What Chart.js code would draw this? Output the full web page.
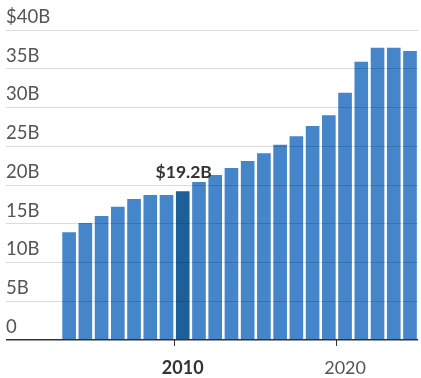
<!DOCTYPE html>
<html>
<head>
<meta charset="utf-8">
<script src="https://cdn.jsdelivr.net/npm/chart.js@4"></script>
<style>
  html, body { margin: 0; padding: 0; background: #fff; }
  #wrap { width: 421px; height: 378px; }
</style>
</head>
<body>
<div id="wrap"><canvas id="myChart"></canvas></div>
<script>
// data
const years = ['2003','2004','2005','2006','2007','2008','2009','2010','2011','2012','2013',
  '2014','2015','2016','2017','2018','2019','2020','2021','2022','2023','2024'];
const revenue = [13.9, 15.1, 16.0, 17.2, 18.2, 18.7, 18.7, 19.2, 20.4, 21.3, 22.2,
  23.1, 24.1, 25.2, 26.3, 27.6, 29.0, 31.9, 35.9, 37.7, 37.7, 37.3];
const shownYears = ['2010', '2020'];
const highlightYear = '2010';
const highlightLabel = '$19.2B';

const FONT = 'Lato, "Open Sans", sans-serif';

// label over the highlighted bar
const calloutPlugin = {
  id: 'callout',
  afterDatasetsDraw(chart) {
    const i = years.indexOf(highlightYear);
    const bar = chart.getDatasetMeta(0).data[i];
    const ctx = chart.ctx;
    ctx.save();
    ctx.font = 'bold 17.5px ' + FONT;
    ctx.fillStyle = '#333';
    ctx.textAlign = 'center';
    ctx.textBaseline = 'bottom';
    ctx.fillText(highlightLabel, bar.x + 1, bar.y - 10);
    ctx.restore();
  }
};

const config = {
  type: 'bar',
  data: {
    labels: years,
    datasets: [{
      data: revenue,
      backgroundColor: years.map(y => y === highlightYear ? '#1d5f99' : '#4585c9'),
      categoryPercentage: 1,
      barPercentage: 0.84
    }]
  },
  options: {
    responsive: true,
    maintainAspectRatio: false,
    animation: false,
    layout: { padding: { left: 6, right: 0, top: 30, bottom: 0 } },
    plugins: { legend: { display: false }, tooltip: { enabled: false } },
    scales: {
      x: {
        border: { display: false },
        grid: {
          drawOnChartArea: false,
          tickLength: 6,
          color: ctx => shownYears.includes(years[ctx.index]) ? '#333' : 'rgba(0,0,0,0)'
        },
        ticks: {
          autoSkip: false,
          maxRotation: 0,
          padding: 11,
          color: ctx => ctx.tick.label === highlightYear ? '#333' : '#555',
          font: ctx => ({ family: FONT, size: 18, weight: ctx.tick && ctx.tick.label === highlightYear ? 'bold' : 'normal' }),
          callback: function (v, i) { return shownYears.includes(years[i]) ? years[i] : ''; }
        },
        afterFit: s => { s.height = 38; }
      },
      y: {
        min: 0,
        max: 40,
        border: { display: false },
        grid: {
          z: 1,
          tickLength: 55,
          color: ctx => ctx.tick.value === 0 ? '#333' : 'rgba(0,0,0,0.14)',
          lineWidth: ctx => ctx.tick.value === 0 ? 1.5 : 1
        },
        ticks: {
          stepSize: 5,
          crossAlign: 'far',
          labelOffset: -13,
          color: '#555',
          font: { family: FONT, size: 18.5 },
          callback: v => v === 40 ? '$40B' : (v === 0 ? '0' : v + 'B')
        },
        afterFit: s => { s.width = 55; }
      }
    }
  },
  plugins: [calloutPlugin]
};

const myChart = new Chart(document.getElementById('myChart'), config);
</script>
</body>
</html>
